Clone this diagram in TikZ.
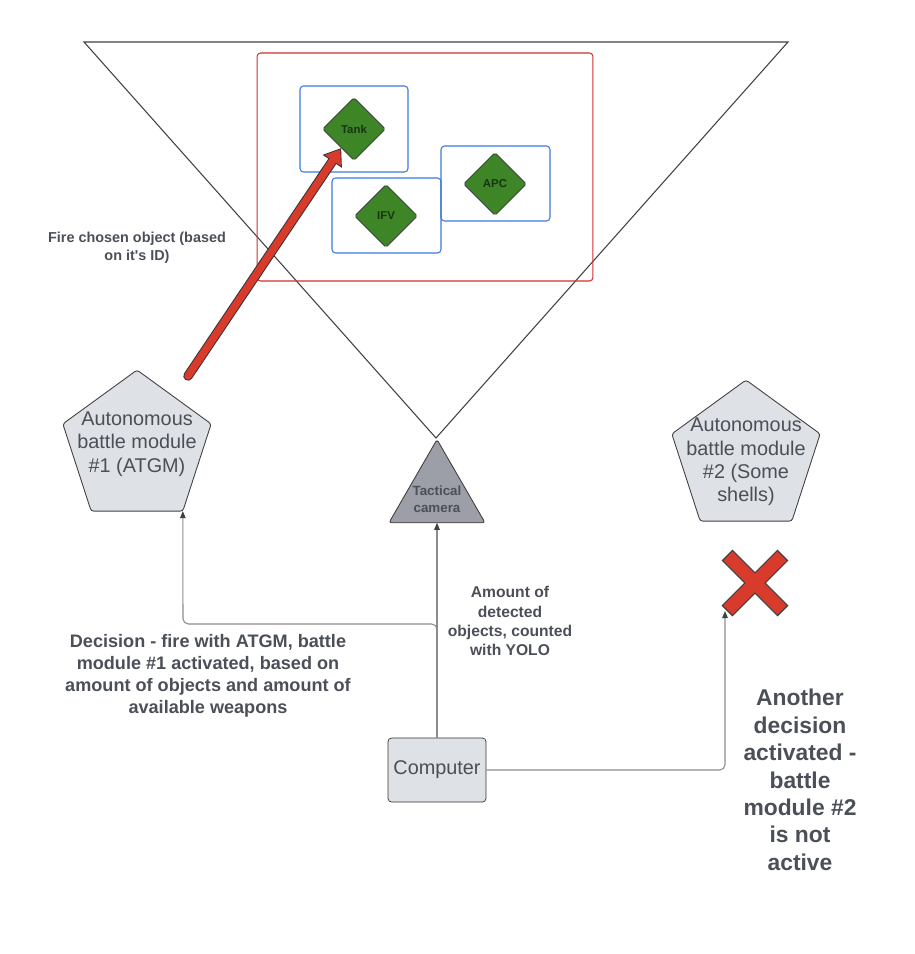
\documentclass[tikz,border=0pt]{standalone}
\usepackage{fontspec}
\setmainfont{Liberation Sans}
\usetikzlibrary{positioning,arrows.meta,shapes.geometric,calc}
\definecolor{modgray}{HTML}{DEE1E6}
\definecolor{camgray}{HTML}{9C9EA8}
\definecolor{txtgray}{HTML}{4B4F57}
\definecolor{tgtgreen}{HTML}{3D8527}
\definecolor{firered}{HTML}{D83A2C}
\definecolor{boxblue}{HTML}{3C78D8}
\definecolor{zonered}{HTML}{D0312D}
\definecolor{linegray}{HTML}{8C8C8C}
\tikzset{
  pentmod/.style={regular polygon, regular polygon sides=5, draw=black!75, fill=modgray, minimum size=3.12cm, inner sep=0pt, outer sep=0pt, line width=0.5pt, rounded corners=1.5pt},
  modtext/.style={align=center, text=txtgray, font=\fontsize{11.3}{13.3}\selectfont},
  camtri/.style={regular polygon, regular polygon sides=3, draw=black!75, fill=camgray, minimum size=2.22cm, inner sep=0pt, outer sep=0pt, line width=0.5pt, rounded corners=1.5pt},
  camtext/.style={align=center, text=txtgray, font=\bfseries\fontsize{7.6}{9.6}\selectfont},
  target/.style={diamond, draw=black!80, fill=tgtgreen, minimum width=1.26cm, minimum height=1.26cm, inner sep=0pt, rounded corners=1pt, font=\bfseries\fontsize{6.5}{7.5}\selectfont, text=black!60!tgtgreen},
  targetbox/.style={draw=boxblue, rounded corners=2pt, line width=0.6pt},
  zonebox/.style={draw=zonered, rounded corners=2pt, minimum width=6.72cm, minimum height=4.56cm, line width=0.6pt},
  compbox/.style={draw=black!80, fill=modgray, rounded corners=2pt, minimum width=1.96cm, minimum height=1.28cm, inner sep=0pt, font=\fontsize{11.3}{13.3}\selectfont, text=txtgray},
  conn/.style={draw=linegray, line width=0.6pt, rounded corners=3pt, -{Triangle[length=1.4mm, width=1.1mm, color=black!75]}},
  note/.style={align=center, text=txtgray},
  fireedge/.style={draw=black!80, line width=0.19cm, line cap=round, -{Triangle[length=0.32cm, width=0.44cm]}},
  firefill/.style={draw=firered, line width=0.15cm, line cap=round, shorten >=0.03cm, -{Triangle[length=0.27cm, width=0.37cm]}},
  crossedge/.style={draw=black!75, line width=0.31cm},
  crossfill/.style={draw=firered, line width=0.26cm}
}

\begin{document}
\begin{tikzpicture}[x=0.02cm, y=-0.02cm]
  \useasboundingbox (0,0) rectangle (914,954);
  % field of view of the camera
  \draw[black!75, line width=0.6pt] (84,42) -- (788,42) -- (436,438) -- cycle;
  \node[zonebox] (zone) at (425,167) {};
  \node[targetbox, minimum width=2.16cm, minimum height=1.72cm] (tankbox) at (354,129) {};
  \node[targetbox, minimum width=2.18cm, minimum height=1.5cm] (ifvbox) at (386.5,215.5) {};
  \node[targetbox, minimum width=2.18cm, minimum height=1.5cm] (apcbox) at (495.5,183.5) {};
  \node[target] (tank) at (354,129) {Tank};
  \node[target] (ifv) at (386,216) {IFV};
  \node[target] (apc) at (495,184) {APC};

  % modules and camera
  \node[pentmod] (mod1) at (137,448) {};
  \node[modtext] (mod1txt) at (137,444) {Autonomous\\battle module\\\#1 (ATGM)};
  \node[pentmod] (mod2) at (746,458) {};
  \node[modtext] (mod2txt) at (746,462) {Autonomous\\battle module\\\#2 (Some\\shells)};
  \node[camtri] (cam) at (437,495) {};
  \node[camtext] (camtxt) at (437,499) {Tactical\\camera};
  \node[compbox] (comp) at (437,770) {Computer};

  % disabled module
  \coordinate (xmark) at (755,583);
  \draw[crossedge] ($(xmark)+(-28,-28)$) -- ($(xmark)+(28,28)$);
  \draw[crossedge] ($(xmark)+(-28,28)$) -- ($(xmark)+(28,-28)$);
  \draw[crossfill] ($(xmark)+(-27,-27)$) -- ($(xmark)+(27,27)$);
  \draw[crossfill] ($(xmark)+(-27,27)$) -- ($(xmark)+(27,-27)$);

  % connectors
  \coordinate (j1) at (183,624);
  \coordinate (xfoot) at (725,611);
  \draw[conn] (comp) -- (cam);
  \draw[conn] (comp.north) |- (j1) -- (mod1.corner 4);
  \draw[conn] (comp.east) -| (xfoot);

  % fire order
  \coordinate (firebase) at (188,376);
  \draw[fireedge] (firebase) -- (tank);
  \draw[firefill] (firebase) -- (tank);

  % labels
  \node[note, font=\bfseries\fontsize{8.2}{10.2}\selectfont] (firelbl) at (137,248) {Fire chosen object (based\\on it\textquotesingle s ID)};
  \node[note, font=\bfseries\fontsize{10.3}{12.5}\selectfont] (declbl) at (208,676) {Decision - fire with ATGM, battle\\module \#1 activated, based on\\amount of objects and amount of\\available weapons};
  \node[note, font=\bfseries\fontsize{8.9}{10.9}\selectfont] (cntlbl) at (510,621) {Amount of\\detected\\objects, counted\\with YOLO};
  \node[note, font=\bfseries\fontsize{13}{15.6}\selectfont] (offlbl) at (800,780) {Another\\decision\\activated -\\battle\\module \#2\\is not\\active};
\end{tikzpicture}
\end{document}
